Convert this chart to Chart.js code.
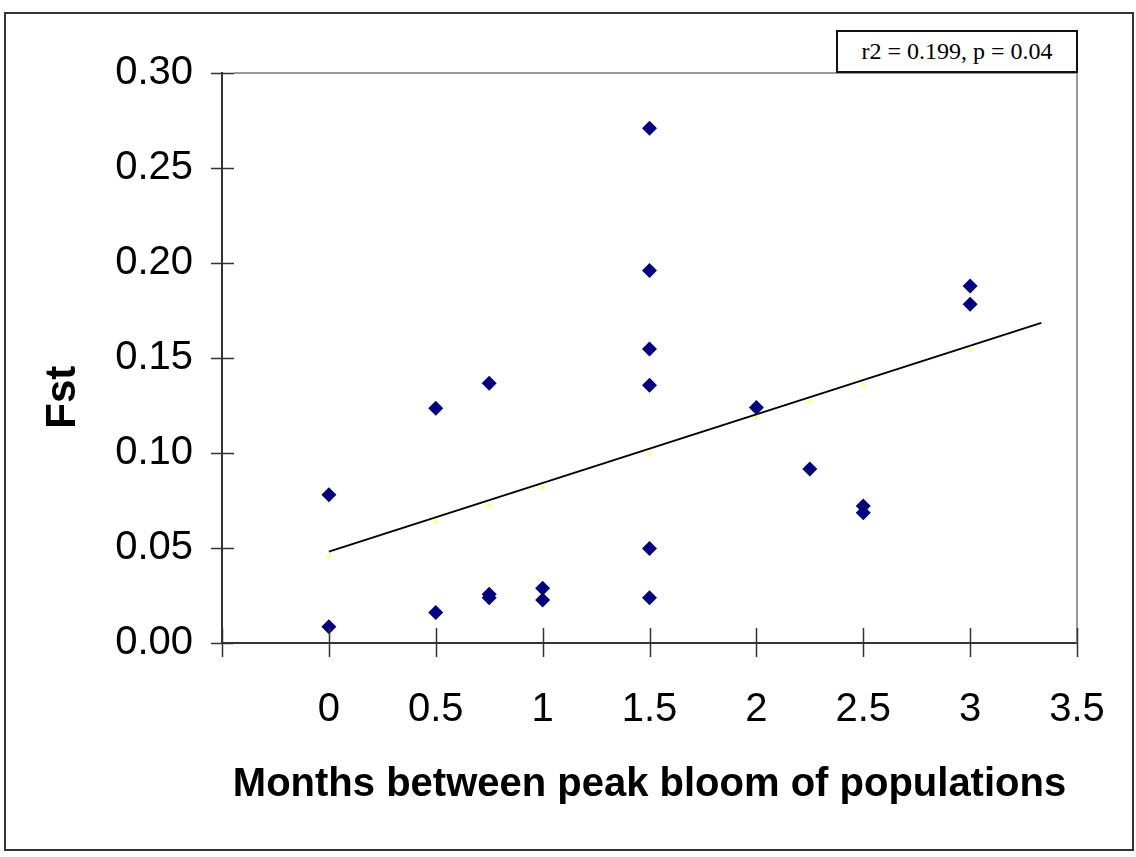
<!DOCTYPE html>
<html>
<head>
<meta charset="utf-8">
<script src="https://cdn.jsdelivr.net/npm/chart.js@4/dist/chart.umd.min.js"></script>
<style>
  html, body { margin: 0; padding: 0; background: #fff; }
  #wrap { position: relative; width: 1136px; height: 857px; }
  #frame {
    position: absolute; left: 4px; top: 12px; width: 1126px; height: 835px;
    border: 2px solid #333; pointer-events: none;
  }
  #stats {
    position: absolute; left: 836px; top: 30px; width: 238px; height: 39px;
    border: 2px solid #111; background: #fff;
    font: 24px "Liberation Serif", "Times New Roman", serif; color: #000;
    text-align: center; line-height: 39px;
  }
</style>
</head>
<body>
<div id="wrap">
  <canvas id="chart" width="1136" height="857"></canvas>
  <div id="frame"></div>
  <div id="stats">r2 = 0.199, p = 0.04</div>
</div>
<script>
// ─── Data ───────────────────────────────────────────────────

const months = [0, 0, 0.5, 0.5, 0.75, 0.75, 0.75, 1, 1,
  1.5, 1.5, 1.5, 1.5, 1.5, 1.5, 2, 2.25, 2.5, 2.5, 3, 3];
const fst = [0.078, 0.0085, 0.1235, 0.016, 0.1367, 0.0257, 0.0238, 0.0288, 0.0226,
  0.2709, 0.196, 0.1547, 0.1356, 0.0498, 0.0238, 0.124, 0.0916, 0.0721, 0.0686, 0.1879, 0.1783];

// predicted values (small yellow markers)
const predX = [0, 0.5, 0.75, 1, 1.5, 2, 2.25, 2.5, 3];
const predY = [0.0452, 0.0638, 0.0721, 0.0816, 0.0998, 0.1188, 0.127, 0.136, 0.1543];

// regression line end points
const trendX = [0, 3.333];
const trendY = [0.0481, 0.1685];

const xTicks = [-0.5, 0, 0.5, 1, 1.5, 2, 2.5, 3, 3.5];
const yTicks = [0, 0.05, 0.1, 0.15, 0.2, 0.25, 0.3];

const pts = (xs, ys) => xs.map((x, i) => ({ x, y: ys[i] }));

// ─── Crossing tick marks + plot border ──────────────────────

const axisMarks = {
  id: 'axisMarks',
  afterDatasetsDraw(chart) {
    const { ctx, chartArea: a, scales: { x, y } } = chart;
    ctx.save();
    ctx.strokeStyle = '#999';
    ctx.lineWidth = 2;
    ctx.beginPath();
    ctx.moveTo(a.left + 12, a.top);
    ctx.lineTo(a.right, a.top);
    ctx.lineTo(a.right, a.bottom);
    ctx.stroke();

    ctx.strokeStyle = '#333';
    ctx.lineWidth = 1.5;
    ctx.beginPath();
    yTicks.forEach(v => {
      const py = Math.round(y.getPixelForValue(v)) + 0.5;
      ctx.moveTo(a.left - 11, py);
      ctx.lineTo(a.left + 12, py);
    });
    xTicks.forEach(v => {
      const px = Math.round(x.getPixelForValue(v)) + 0.5;
      ctx.moveTo(px, a.bottom - 15);
      ctx.lineTo(px, a.bottom + 14);
    });
    ctx.stroke();
    ctx.restore();
  },
};

// ─── Chart ──────────────────────────────────────────────────

new Chart(document.getElementById('chart'), {
  data: {
    datasets: [
      {
        type: 'scatter',
        label: 'Fst',
        data: pts(months, fst),
        pointStyle: 'rectRot',
        pointRadius: 7.5,
        backgroundColor: '#000080',
        borderColor: '#000080',
        borderWidth: 0,
        order: 0,
      },
      {
        type: 'line',
        label: 'Trend',
        data: pts(trendX, trendY),
        borderColor: '#000',
        borderWidth: 2,
        pointRadius: 0,
        fill: false,
        order: 1,
      },
      {
        type: 'scatter',
        label: 'Predicted',
        data: pts(predX, predY),
        pointStyle: 'circle',
        pointRadius: 2.5,
        backgroundColor: '#ffff99',
        borderWidth: 0,
        order: 2,
      },
    ],
  },
  options: {
    responsive: false,
    animation: false,
    layout: { padding: { top: 73, right: 59, left: 0, bottom: 0 } },
    plugins: { legend: { display: false }, tooltip: { enabled: false } },
    scales: {
      x: {
        type: 'linear',
        min: -0.5,
        max: 3.5,
        afterBuildTicks: s => { s.ticks = xTicks.map(v => ({ value: v })); },
        afterFit: s => { s.height = 214; s.paddingLeft = 0; s.paddingRight = 0; },
        grid: { drawOnChartArea: false, drawTicks: false },
        border: { color: '#333', width: 2 },
        ticks: {
          padding: 43,
          color: '#000',
          font: { family: 'Liberation Sans, Arial, sans-serif', size: 40 },
          callback: v => (v < 0 ? '' : String(v)),
        },
        title: {
          display: true,
          text: 'Months between peak bloom of populations',
          color: '#000',
          font: { family: 'Liberation Sans, Arial, sans-serif', size: 40, weight: 'bold' },
          padding: { top: 0, bottom: 48 },
        },
      },
      y: {
        type: 'linear',
        min: 0,
        max: 0.3,
        afterBuildTicks: s => { s.ticks = yTicks.map(v => ({ value: v })); },
        afterFit: s => { s.width = 222; s.paddingTop = 0; s.paddingBottom = 0; },
        grid: { drawOnChartArea: false, drawTicks: false },
        border: { color: '#333', width: 2 },
        ticks: {
          padding: 29,
          color: '#000',
          font: { family: 'Liberation Sans, Arial, sans-serif', size: 40 },
          callback: v => v.toFixed(2),
        },
        title: {
          display: true,
          // trailing spaces push the rotated label below the axis centre, as in the original
          text: 'Fst      \u2009',
          color: '#000',
          font: { family: 'Liberation Sans, Arial, sans-serif', size: 42, weight: 'bold' },
          padding: { top: 38, bottom: 0 },
        },
      },
    },
  },
  plugins: [axisMarks],
});
</script>
</body>
</html>
